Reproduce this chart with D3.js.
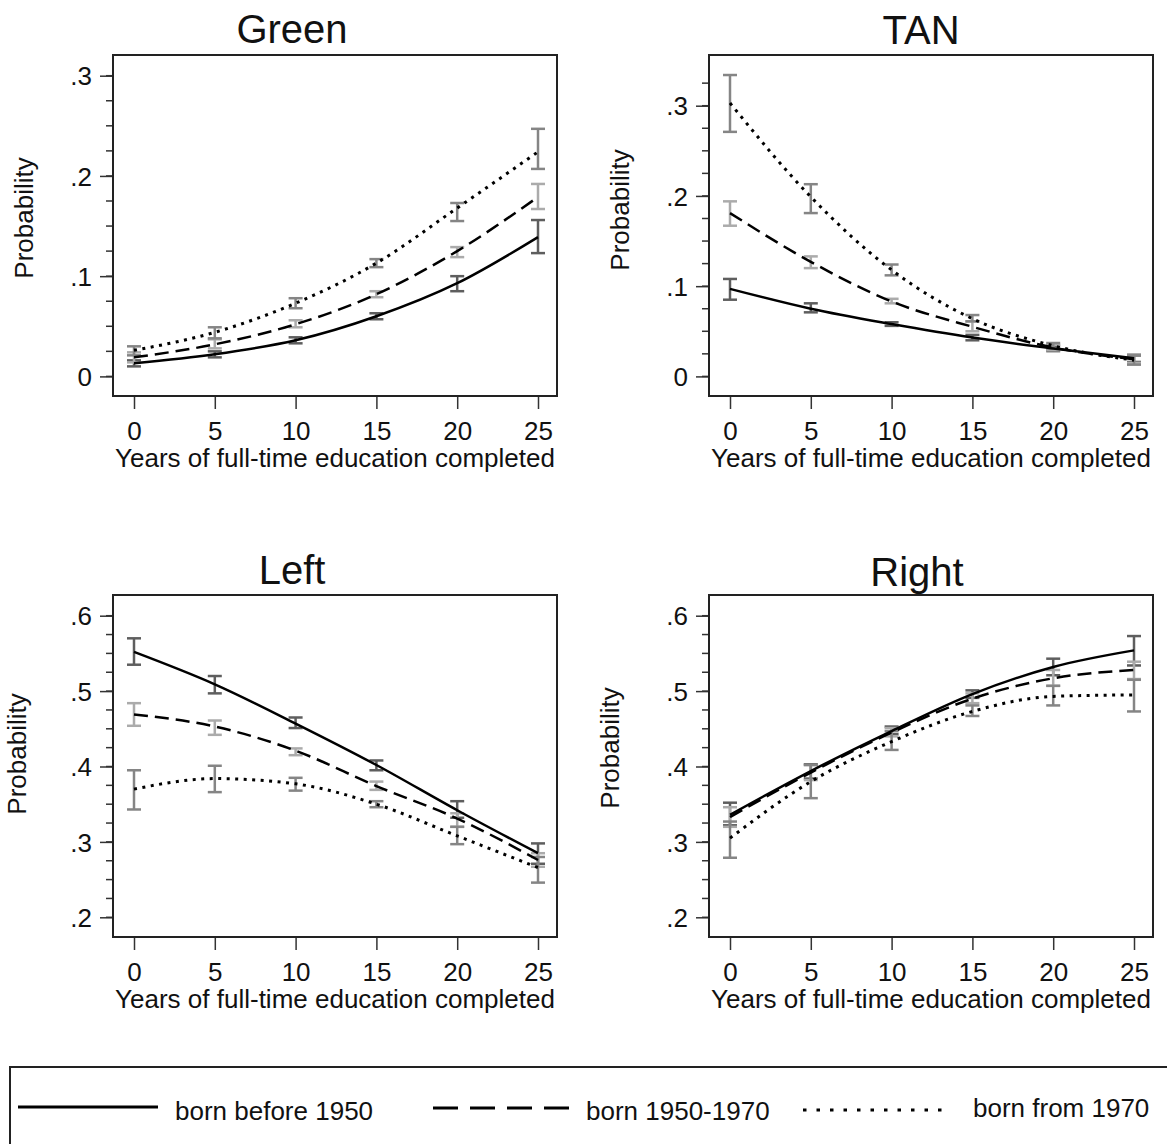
<!DOCTYPE html>
<html lang="en">
<head>
    <meta charset="UTF-8">
    <title>Predicted probability by education and cohort</title>
    <style>
        body { margin: 0; background: #fff; }
        svg text { font-family: "Liberation Sans", Arial, sans-serif; fill: #111; }
    </style>
</head>
<body>
    <svg id="chart" width="1167" height="1144"></svg>
    <script src="https://d3js.org/d3.v7.min.js"></script>
    <script>
        // x values (years of full-time education)
        var years = [0, 5, 10, 15, 20, 25];
        var seriesNames = ["born before 1950", "born 1950-1970", "born from 1970"];

        // each point: [estimate, lower CI, upper CI]
        var greenBefore1950 = [[0.013, 0.010, 0.016], [0.022, 0.019, 0.025], [0.036, 0.033, 0.039], [0.060, 0.057, 0.063], [0.093, 0.085, 0.100], [0.139, 0.123, 0.156]];
        var green1950to1970 = [[0.019, 0.014, 0.024], [0.032, 0.028, 0.037], [0.052, 0.049, 0.056], [0.082, 0.079, 0.085], [0.125, 0.119, 0.129], [0.179, 0.167, 0.192]];
        var greenFrom1970   = [[0.026, 0.021, 0.030], [0.044, 0.038, 0.049], [0.073, 0.068, 0.078], [0.113, 0.109, 0.117], [0.168, 0.155, 0.173], [0.224, 0.207, 0.247]];

        var tanBefore1950 = [[0.097, 0.085, 0.108], [0.075, 0.071, 0.081], [0.058, 0.056, 0.060], [0.043, 0.040, 0.046], [0.031, 0.028, 0.034], [0.020, 0.016, 0.024]];
        var tan1950to1970 = [[0.181, 0.167, 0.194], [0.127, 0.120, 0.133], [0.083, 0.081, 0.086], [0.055, 0.050, 0.061], [0.032, 0.029, 0.035], [0.019, 0.015, 0.023]];
        var tanFrom1970   = [[0.303, 0.271, 0.334], [0.199, 0.181, 0.213], [0.118, 0.112, 0.124], [0.064, 0.061, 0.068], [0.034, 0.031, 0.037], [0.018, 0.013, 0.023]];

        var leftBefore1950 = [[0.552, 0.535, 0.570], [0.509, 0.497, 0.520], [0.457, 0.451, 0.465], [0.402, 0.395, 0.408], [0.342, 0.332, 0.354], [0.285, 0.271, 0.298]];
        var left1950to1970 = [[0.469, 0.454, 0.484], [0.453, 0.442, 0.461], [0.421, 0.415, 0.424], [0.374, 0.369, 0.380], [0.331, 0.320, 0.338], [0.276, 0.267, 0.285]];
        var leftFrom1970   = [[0.370, 0.343, 0.395], [0.384, 0.366, 0.401], [0.377, 0.368, 0.385], [0.350, 0.346, 0.354], [0.308, 0.297, 0.320], [0.266, 0.246, 0.280]];

        var rightBefore1950 = [[0.336, 0.322, 0.352], [0.394, 0.384, 0.403], [0.447, 0.443, 0.453], [0.496, 0.491, 0.501], [0.532, 0.521, 0.543], [0.554, 0.534, 0.573]];
        var right1950to1970 = [[0.333, 0.320, 0.346], [0.392, 0.382, 0.402], [0.445, 0.440, 0.451], [0.490, 0.484, 0.497], [0.517, 0.507, 0.528], [0.528, 0.516, 0.539]];
        var rightFrom1970   = [[0.305, 0.279, 0.327], [0.380, 0.358, 0.402], [0.433, 0.422, 0.447], [0.473, 0.467, 0.481], [0.493, 0.481, 0.507], [0.495, 0.473, 0.515]];

        var greenTicks = [0, 0.1, 0.2, 0.3];
        var tanTicks = [0, 0.1, 0.2, 0.3];
        var leftRightTicks = [0.2, 0.3, 0.4, 0.5, 0.6];

        // line styles for the three cohorts
        var lineDash = [null, "14,7", "3,5.5"];
        var lineWidth = [2.5, 2.5, 3];
        var ciColor = ["#5e5e5e", "#ababab", "#858585"];

        var panels = [
            { title: "Green", series: [greenBefore1950, green1950to1970, greenFrom1970], ticks: greenTicks, minor: [0, 0.3],
              left: 113, right: 557, top: 55, bottom: 396, yRange: [376.4, 75.7], xRange: [134, 538],
              titleX: 292, titleY: 43, ylabX: 33, ylabY: 218 },
            { title: "TAN", series: [tanBefore1950, tan1950to1970, tanFrom1970], ticks: tanTicks, minor: [0, 0.325],
              left: 709, right: 1153, top: 55, bottom: 396, yRange: [376.4, 105.7], xRange: [730, 1134],
              titleX: 921, titleY: 44, ylabX: 629, ylabY: 210 },
            { title: "Left", series: [leftBefore1950, left1950to1970, leftFrom1970], ticks: leftRightTicks, minor: [0.2, 0.6],
              left: 113, right: 557, top: 595, bottom: 937, yRange: [917.3, 615.7], xRange: [134, 538],
              titleX: 292, titleY: 584, ylabX: 26, ylabY: 754 },
            { title: "Right", series: [rightBefore1950, right1950to1970, rightFrom1970], ticks: leftRightTicks, minor: [0.2, 0.6],
              left: 709, right: 1153, top: 595, bottom: 937, yRange: [917.3, 615.7], xRange: [730, 1134],
              titleX: 917, titleY: 586, ylabX: 619, ylabY: 748 }
        ];

        var svg = d3.select("#chart");

        function fmt(v) {
            // Stata style: .3 instead of 0.3
            if (v === 0) return "0";
            return d3.format(".1f")(v).replace(/^0/, "");
        }

        panels.forEach(function(p) {
            var g = svg.append("g");
            var x = d3.scaleLinear().domain([0, 25]).range(p.xRange);
            var lo = p.ticks[0], hi = p.ticks[p.ticks.length - 1];
            var y = d3.scaleLinear().domain([lo, hi]).range(p.yRange);

            // title
            g.append("text")
                .attr("x", p.titleX).attr("y", p.titleY)
                .attr("text-anchor", "middle")
                .style("font-size", "40px")
                .text(p.title);

            // minor ticks
            var minorTicks = d3.range(p.minor[0], p.minor[1] + 0.001, 0.025);
            g.selectAll(".minor").data(minorTicks).enter().append("line")
                .attr("x1", p.left - 7).attr("x2", p.left)
                .attr("y1", function(d) { return y(d); })
                .attr("y2", function(d) { return y(d); })
                .attr("stroke", "#333").attr("stroke-width", 1.5);

            // y axis
            var yAxis = d3.axisLeft(y).tickValues(p.ticks).tickFormat(fmt).tickSize(13).tickPadding(8);
            var ya = g.append("g").attr("transform", "translate(" + p.left + ",0)").call(yAxis);
            ya.select(".domain").remove();
            ya.selectAll("line").attr("stroke", "#333").attr("stroke-width", 1.5);
            ya.selectAll("text").style("font-size", "26px").attr("dy", "0.35em").attr("fill", "#111");

            // x axis
            var xAxis = d3.axisBottom(x).tickValues(years).tickSize(13).tickPadding(13);
            var xa = g.append("g").attr("transform", "translate(0," + p.bottom + ")").call(xAxis);
            xa.select(".domain").remove();
            xa.selectAll("line").attr("stroke", "#333").attr("stroke-width", 1.5);
            xa.selectAll("text").style("font-size", "26px").attr("fill", "#111");

            // axis titles
            g.append("text")
                .attr("x", (p.left + p.right) / 2).attr("y", p.bottom + 71)
                .attr("text-anchor", "middle")
                .style("font-size", "26px")
                .text("Years of full-time education completed");

            g.append("text")
                .attr("transform", "translate(" + p.ylabX + "," + p.ylabY + ") rotate(-90)")
                .attr("text-anchor", "middle")
                .style("font-size", "26px")
                .text("Probability");

            // error bars
            p.series.forEach(function(s, i) {
                var eb = g.append("g");
                s.forEach(function(d, j) {
                    var cx = x(years[j]);
                    eb.append("line").attr("x1", cx).attr("x2", cx).attr("y1", y(d[1])).attr("y2", y(d[2]));
                    eb.append("line").attr("x1", cx - 7).attr("x2", cx + 7).attr("y1", y(d[1])).attr("y2", y(d[1]));
                    eb.append("line").attr("x1", cx - 7).attr("x2", cx + 7).attr("y1", y(d[2])).attr("y2", y(d[2]));
                });
                eb.selectAll("line").attr("stroke", ciColor[i]).attr("stroke-width", 2.5);
            });

            // lines
            var line = d3.line()
                .x(function(d, j) { return x(years[j]); })
                .y(function(d) { return y(d[0]); })
                .curve(d3.curveMonotoneX);

            p.series.forEach(function(s, i) {
                g.append("path")
                    .attr("d", line(s))
                    .attr("fill", "none")
                    .attr("stroke", "#000")
                    .attr("stroke-width", lineWidth[i])
                    .attr("stroke-dasharray", lineDash[i]);
            });

            // plot box
            g.append("rect")
                .attr("x", p.left).attr("y", p.top)
                .attr("width", p.right - p.left).attr("height", p.bottom - p.top)
                .attr("fill", "none").attr("stroke", "#222").attr("stroke-width", 2);
        });

        // legend
        var legend = svg.append("g");
        legend.append("rect")
            .attr("x", 10).attr("y", 1067).attr("width", 1200).attr("height", 120)
            .attr("fill", "none").attr("stroke", "#222").attr("stroke-width", 2);

        var legendX = [18, 433, 803];
        var legendLen = [140, 137, 142];
        var legendTextX = [175, 586, 973];
        var legendLineY = [1107, 1108, 1110];
        var legendTextY = [1120, 1120, 1117];
        var legendDash = [null, "25,12", "3.5,10"];

        seriesNames.forEach(function(name, i) {
            legend.append("line")
                .attr("x1", legendX[i]).attr("x2", legendX[i] + legendLen[i])
                .attr("y1", legendLineY[i]).attr("y2", legendLineY[i])
                .attr("stroke", "#000").attr("stroke-width", 3)
                .attr("stroke-dasharray", legendDash[i]);
            legend.append("text")
                .attr("x", legendTextX[i]).attr("y", legendTextY[i])
                .style("font-size", "26px")
                .text(name);
        });
    </script>
</body>
</html>
